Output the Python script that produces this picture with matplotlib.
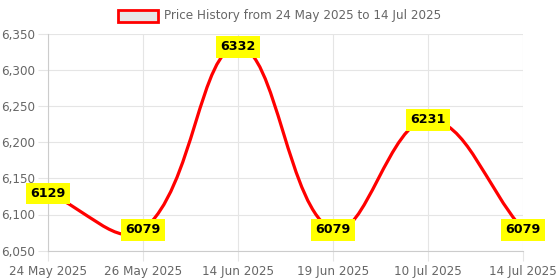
import matplotlib
matplotlib.use("Agg")
import matplotlib.pyplot as plt
from matplotlib.path import Path
from matplotlib.patches import PathPatch, Rectangle

dates = ["24 May 2025", "26 May 2025", "14 Jun 2025", "19 Jun 2025", "10 Jul 2025", "14 Jul 2025"]
prices = [6129, 6079, 6332, 6079, 6231, 6079]
y_ticks = [6050, 6100, 6150, 6200, 6250, 6300, 6350]

COLOR_TEXT = "#666666"
COLOR_GRID = "#e5e5e5"
COLOR_AXIS = "#cccccc"
TENSION = 0.4


def spline_path(ax, xs, ys, t):
    # chart.js style bezier, control points worked out in pixel space
    tr = ax.transData
    pts = [tr.transform((x, y)) for x, y in zip(xs, ys)]
    n = len(pts)
    ctrl = []
    for i in range(n):
        prev = pts[i - 1] if i > 0 else pts[i]
        cur = pts[i]
        nxt = pts[i + 1] if i < n - 1 else pts[i]
        d01 = ((cur[0] - prev[0]) ** 2 + (cur[1] - prev[1]) ** 2) ** 0.5
        d12 = ((nxt[0] - cur[0]) ** 2 + (nxt[1] - cur[1]) ** 2) ** 0.5
        tot = d01 + d12
        s01 = d01 / tot if tot else 0
        s12 = d12 / tot if tot else 0
        fa, fb = t * s01, t * s12
        cp_prev = (cur[0] - fa * (nxt[0] - prev[0]), cur[1] - fa * (nxt[1] - prev[1]))
        cp_next = (cur[0] + fb * (nxt[0] - prev[0]), cur[1] + fb * (nxt[1] - prev[1]))
        ctrl.append((cp_prev, cp_next))
    verts = [pts[0]]
    codes = [Path.MOVETO]
    for i in range(1, n):
        verts += [ctrl[i - 1][1], ctrl[i][0], pts[i]]
        codes += [Path.CURVE4] * 3
    inv = tr.inverted()
    return Path([inv.transform(v) for v in verts], codes)


fig = plt.figure(figsize=(5.6, 2.8), dpi=100)
ax = fig.add_axes([48 / 560, 1 - 250.7 / 280, 475 / 560, 217.2 / 280])
x = list(range(len(dates)))
ax.set_xlim(0, len(dates) - 1)
ax.set_ylim(6050, 6350)

ax.set_yticks(y_ticks)
ax.set_yticklabels([f"{v:,}" for v in y_ticks])
ax.set_xticks(x)
ax.set_xticklabels(dates)
ax.grid(True, color=COLOR_GRID, linewidth=0.8)
ax.set_axisbelow(True)
for side in ["top", "right"]:
    ax.spines[side].set_visible(False)
for side in ["left", "bottom"]:
    ax.spines[side].set_color(COLOR_AXIS)
    ax.spines[side].set_linewidth(0.8)
ax.tick_params(axis="both", colors=COLOR_GRID, labelcolor=COLOR_TEXT, labelsize=8.64, length=7, width=0.8)
ax.tick_params(axis="y", pad=2)
ax.tick_params(axis="x", pad=3)

path = spline_path(ax, x, prices, TENSION)
ax.add_patch(PathPatch(path, facecolor="none", edgecolor="red", linewidth=2.3, clip_on=False,
                       capstyle="round", joinstyle="round"))

for xi, p in zip(x, prices):
    ax.text(xi, p, str(p), ha="center", va="center", fontsize=9.2, fontweight="bold", color="black",
            bbox=dict(boxstyle="square,pad=0.35", facecolor="yellow", edgecolor="none"),
            clip_on=False, zorder=5)

# legend
fig.patches.append(Rectangle((118 / 560, 1 - 22 / 280), 40 / 560, 12 / 280, transform=fig.transFigure,
                             facecolor="#e6e6e6", edgecolor="red", linewidth=2))
fig.text(164 / 560, 1 - 16 / 280, "Price History from 24 May 2025 to 14 Jul 2025", ha="left", va="center",
         fontsize=8.64, color=COLOR_TEXT)

fig.savefig("out.png", facecolor="white")
